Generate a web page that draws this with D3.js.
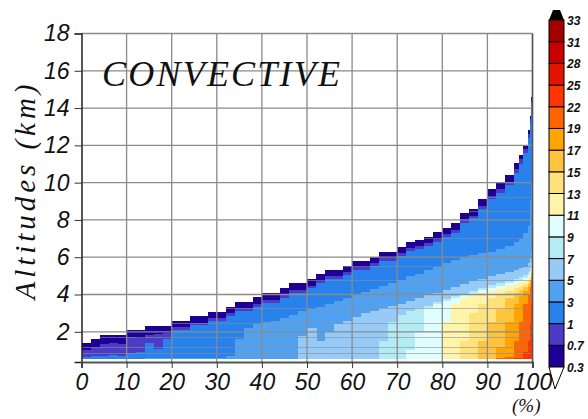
<!DOCTYPE html>
<html><head><meta charset="utf-8">
<script src="https://cdn.jsdelivr.net/npm/d3@7"></script>
<style>html,body{margin:0;padding:0;background:#fff;} svg{display:block}</style>
</head><body>
<svg id="c" width="588" height="419"></svg>
<script>
// percentile column edges (%)
const pctEdges = [0,2,4,6,8,10,12,14,16,18,20,22,24,26,28,30,32,34,36,38,40,42,44,46,48,50,
  52,54,56,58,60,62,64,66,68,70,72,74,76,78,80,82,84,86,88,90,92,94,96,97,98,99,99.5,99.75,100];
const baseAlt = 0.52;
const levelValues = [0.3,0.7,1,3,5,7,9,11,13,15,17,19,22,25,28,31,33];
const levelColors = ["#1e0096","#4b3cc8","#2882ec","#50a2f0","#96cbf8","#b4ecf6","#e0fefe",
  "#fff4a8","#ffe27a","#ffc43c","#ffa400","#ff6400","#ff3400","#e51400","#c80000","#a50000"];
// top altitude (km) of the region >= each level, per column
const top03 = [1.38,1.59,1.82,1.82,1.82,2.09,2.09,2.30,2.30,2.30,
  2.59,2.59,2.84,2.84,3.07,3.07,3.34,3.61,3.61,3.85,
  4.06,4.06,4.33,4.60,4.60,4.83,5.10,5.32,5.32,5.54,
  5.80,5.80,6.03,6.29,6.29,6.56,6.83,6.95,7.10,7.34,
  7.58,7.82,8.35,8.58,9.11,9.64,10.00,10.41,
  11.04,11.50,12.00,12.80,13.60,14.60];
const top07 = [1.05,1.20,1.35,1.40,1.35,1.70,1.65,1.85,1.90,1.95,
  2.24,2.24,2.49,2.49,2.72,2.72,2.99,3.26,3.26,3.50,
  3.71,3.71,3.98,4.25,4.25,4.48,4.75,4.97,4.97,5.19,
  5.45,5.45,5.68,5.94,5.94,6.21,6.48,6.60,6.75,6.99,
  7.23,7.47,8.00,8.23,8.76,9.29,9.65,10.06,
  10.74,11.25,11.80,12.60,13.40,14.40];
const top1 = [0.66,0.68,0.70,0.75,0.72,0.85,0.90,1.40,1.10,1.60,
  2.09,2.09,2.34,2.34,2.57,2.57,2.84,3.11,3.11,3.35,
  3.56,3.56,3.83,4.10,4.10,4.33,4.60,4.82,4.82,5.04,
  5.30,5.30,5.53,5.79,5.79,6.06,6.33,6.45,6.60,6.84,
  7.08,7.32,7.85,8.08,8.60,9.10,9.45,9.85,
  10.50,11.00,11.60,12.40,13.20,14.20];
const top3 = [0,0,0,0,0,0,0,0.62,0.60,0.62,
  0.60,0.62,0.62,0.62,0.60,0.62,0.70,1.60,2.20,2.40,
  2.50,2.60,2.75,2.90,3.10,3.20,3.35,3.50,3.65,3.80,
  4.00,4.15,4.30,4.45,4.60,4.80,5.00,5.10,5.30,5.50,
  5.70,5.85,6.00,6.10,6.20,6.30,6.45,6.60,
  6.80,7.00,7.30,7.70,9.00,10.00];
const top5 = [0,0,0,0,0,0,0,0,0,0,
  0,0,0,0,0,0,0,0,0,0,
  0,0,0,0,1.80,2.20,1.50,2.00,2.40,2.60,
  2.80,3.00,3.10,3.25,3.40,3.50,3.65,3.80,3.95,4.10,
  4.25,4.40,4.55,4.70,4.85,5.00,5.10,5.20,
  5.30,5.40,5.50,5.70,6.00,6.30];
const top7 = [0,0,0,0,0,0,0,0,0,0,
  0,0,0,0,0,0,0,0,0,0,
  0,0,0,0,0,0,0,0,0,0,
  0,0,0,1.50,2.50,2.90,3.10,3.25,3.40,3.60,
  3.75,3.90,4.05,4.20,4.35,4.50,4.60,4.75,
  4.85,4.95,5.05,5.20,5.40,5.80];
const top9 = [0,0,0,0,0,0,0,0,0,0,
  0,0,0,0,0,0,0,0,0,0,
  0,0,0,0,0,0,0,0,0,0,
  0,0,0,0,0,0,1.00,2.00,3.30,3.50,
  3.65,3.80,3.95,4.10,4.25,4.35,4.45,4.60,
  4.70,4.80,4.90,5.05,5.25,5.60];
const top11 = [0,0,0,0,0,0,0,0,0,0,
  0,0,0,0,0,0,0,0,0,0,
  0,0,0,0,0,0,0,0,0,0,
  0,0,0,0,0,0,0,0,0,0,
  2.50,3.50,3.80,3.95,4.10,4.20,4.30,4.45,
  4.55,4.65,4.75,4.90,5.10,5.45];
const top13 = [0,0,0,0,0,0,0,0,0,0,
  0,0,0,0,0,0,0,0,0,0,
  0,0,0,0,0,0,0,0,0,0,
  0,0,0,0,0,0,0,0,0,0,
  0,0,1.50,3.00,3.50,3.80,4.00,4.20,
  4.35,4.45,4.55,4.70,4.95,5.30];
const top15 = [0,0,0,0,0,0,0,0,0,0,
  0,0,0,0,0,0,0,0,0,0,
  0,0,0,0,0,0,0,0,0,0,
  0,0,0,0,0,0,0,0,0,0,
  0,0,0,0,1.50,2.50,3.20,3.80,
  4.10,4.25,4.40,4.55,4.80,5.15];
const top17 = [0,0,0,0,0,0,0,0,0,0,
  0,0,0,0,0,0,0,0,0,0,
  0,0,0,0,0,0,0,0,0,0,
  0,0,0,0,0,0,0,0,0,0,
  0,0,0,0,0,0,1.20,2.50,
  3.50,3.90,4.20,4.40,4.65,5.00];
const top19 = [0,0,0,0,0,0,0,0,0,0,
  0,0,0,0,0,0,0,0,0,0,
  0,0,0,0,0,0,0,0,0,0,
  0,0,0,0,0,0,0,0,0,0,
  0,0,0,0,0,0,0.62,0.65,
  1.50,2.50,3.50,4.00,4.40,4.80];
const top22 = [0,0,0,0,0,0,0,0,0,0,
  0,0,0,0,0,0,0,0,0,0,
  0,0,0,0,0,0,0,0,0,0,
  0,0,0,0,0,0,0,0,0,0,
  0,0,0,0,0,0,0,0,
  0.60,0.62,0.90,1.50,2.50,3.50];
const levelTops = [top03, top07, top1, top3, top5, top7, top9, top11, top13, top15, top17, top19, top22];
const overlayAlts = [0.86,1.20,1.73,2.48,3.25,4.77,5.52,7.01,8.47,9.24];
const xTicks = [0,10,20,30,40,50,60,70,80,90,100];
const yTicks = [2,4,6,8,10,12,14,16,18];
const cbLabels = ["0.3","0.7","1","3","5","7","9","11","13","15","17","19","22","25","28","31","33"];

const svg = d3.select("#c");
const x = d3.scaleLinear().domain([0,100]).range([81.5,532.5]);
const y = d3.scaleLinear().domain([0.38,18]).range([362,33.5]);

// data columns
const cells = [];
levelTops.forEach((tops,k)=>{
  tops.forEach((t,i)=>{ if(t>baseAlt) cells.push({k,i,t}); });
});
svg.append("g").attr("shape-rendering","crispEdges").selectAll("rect").data(cells).join("rect")
  .attr("x",d=>x(pctEdges[d.i]))
  .attr("width",d=>x(pctEdges[d.i+1])-x(pctEdges[d.i])+0.6)
  .attr("y",d=>y(d.t))
  .attr("height",d=>y(baseAlt)-y(d.t))
  .attr("fill",d=>levelColors[d.k]);

// faint lines inside data
const segs=[];
overlayAlts.forEach(a=>{ top03.forEach((t,i)=>{ if(t>a) segs.push({a,i}); }); });
svg.append("g").selectAll("line").data(segs).join("line")
  .attr("x1",d=>x(pctEdges[d.i])).attr("x2",d=>x(pctEdges[d.i+1]))
  .attr("y1",d=>Math.round(y(d.a))+0.5).attr("y2",d=>Math.round(y(d.a))+0.5)
  .attr("stroke","#8c8c9c").attr("stroke-opacity",0.6).attr("stroke-width",1);

// grid
const grid = svg.append("g").attr("stroke","#8a8a8a").attr("stroke-width",1.3);
grid.selectAll(".v").data(xTicks.slice(1)).join("line")
  .attr("x1",d=>x(d)).attr("x2",d=>x(d)).attr("y1",y(18)).attr("y2",y(0.38));
grid.selectAll(".h").data(yTicks).join("line")
  .attr("x1",x(0)).attr("x2",x(100)).attr("y1",d=>y(d)).attr("y2",d=>y(d));
svg.append("line").attr("x1",x(100)).attr("x2",x(100)).attr("y1",y(18)).attr("y2",y(0.38))
  .attr("stroke","#555").attr("stroke-width",1.5);

// axes
const ya = svg.append("g").attr("transform",`translate(${x(0)},0)`)
  .call(d3.axisLeft(y).tickValues(yTicks).tickSize(7).tickPadding(5).tickFormat(d3.format("d")));
ya.select(".domain").attr("stroke","#222").attr("stroke-width",1.5);
ya.selectAll(".tick line").attr("stroke","#333");
ya.selectAll("text").attr("font-family","'Liberation Sans',Arial,sans-serif").attr("font-style","italic")
  .attr("font-size",23).attr("fill","#111");

const xa = svg.append("g").attr("transform",`translate(0,${y(0.38)})`)
  .call(d3.axisBottom(x).tickValues(xTicks).tickSize(6).tickPadding(6).tickFormat(d3.format("d")));
xa.select(".domain").attr("stroke","#555").attr("stroke-width",2);
xa.selectAll(".tick line").attr("stroke","#333");
xa.selectAll("text").attr("font-family","'Liberation Sans',Arial,sans-serif").attr("font-style","italic")
  .attr("font-size",23).attr("fill","#111");

// titles
svg.append("text").attr("x",102).attr("y",86).attr("font-family","'Liberation Serif','DejaVu Serif',serif")
  .attr("font-style","italic").attr("font-size",36).attr("textLength",238).attr("lengthAdjust","spacing")
  .attr("fill","#111").text("CONVECTIVE");
svg.append("text").attr("transform","translate(35,192) rotate(-90)").attr("text-anchor","middle")
  .attr("font-family","'Liberation Serif','DejaVu Serif',serif").attr("font-style","italic")
  .attr("font-size",29).attr("textLength",215).attr("lengthAdjust","spacing").attr("fill","#111")
  .text("Altitudes (km)");
svg.append("text").attr("x",512).attr("y",412).attr("font-family","'Liberation Serif','DejaVu Serif',serif")
  .attr("font-style","italic").attr("font-size",19).attr("fill","#111").text("(%)");

// colorbar
const cb = d3.scaleLinear().domain([0,16]).range([367,20]);
const cbx = 549, cbw = 15;
const cbg = svg.append("g");
cbg.selectAll("rect").data(levelColors).join("rect")
  .attr("x",cbx).attr("width",cbw).attr("y",(d,i)=>cb(i+1)).attr("height",(d,i)=>cb(i)-cb(i+1))
  .attr("fill",d=>d).attr("stroke","#000").attr("stroke-width",1);
cbg.append("path").attr("d",`M${cbx},${cb(16)}L${cbx+cbw},${cb(16)}L${cbx+11},10L${cbx+4},10Z`).attr("fill","#000");
cbg.append("path").attr("d",`M${cbx},${cb(0)}L${cbx+cbw},${cb(0)}L${cbx+6},389Z`).attr("fill","#fff").attr("stroke","#000");
cbg.selectAll("text").data(cbLabels).join("text")
  .attr("x",567).attr("y",(d,i)=>cb(i)+5).attr("font-family","'Liberation Sans',Arial,sans-serif")
  .attr("font-style","italic").attr("font-weight","bold").attr("font-size",12).attr("fill","#111").text(d=>d);
</script>
</body></html>
